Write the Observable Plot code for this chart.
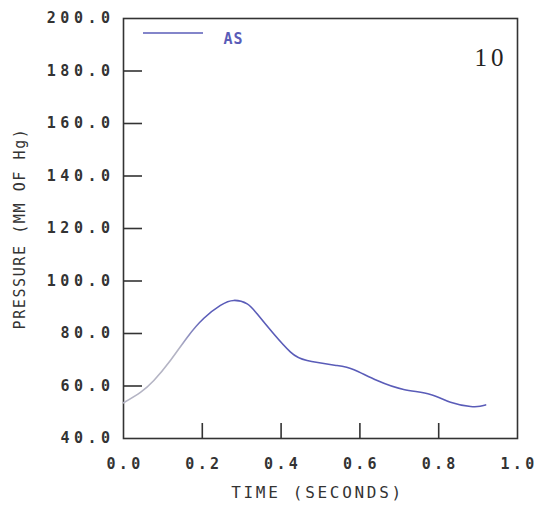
<!DOCTYPE html>
<html>
<head>
<meta charset="utf-8">
<script src="https://cdn.jsdelivr.net/npm/d3@7"></script>
<script src="https://cdn.jsdelivr.net/npm/@observablehq/plot@0.6"></script>
<style>
  body { margin: 0; background: #fff; }
  #chart svg { display: block; }
  .ylab text { letter-spacing: 4.5px; }
  .xlab text { letter-spacing: 3.3px; }
  .xtitle text { letter-spacing: 2.7px; }
  .ytitle text { letter-spacing: 1.6px; }
  .legtext text { letter-spacing: 1px; }
  .panel text { letter-spacing: 4px; }
</style>
</head>
<body>
<div id="chart"></div>
<script>
// Time (seconds) and pressure (mm of Hg)
const time = [0.000, 0.043, 0.077, 0.119, 0.162, 0.204, 0.246, 0.280, 0.314, 0.339, 0.381, 0.424, 0.466, 0.542, 0.585, 0.644, 0.711, 0.779, 0.830, 0.881, 0.905, 0.919];
const pressure = [53.6, 57.6, 62.1, 69.7, 78.6, 85.8, 90.7, 92.6, 91.3, 87.5, 79.9, 72.9, 69.7, 67.8, 66.2, 62.1, 58.7, 56.8, 53.8, 52.2, 52.3, 52.8];
const xTicks = [0.0, 0.2, 0.4, 0.6, 0.8, 1.0];
const yTicks = [40, 60, 80, 100, 120, 140, 160, 180, 200];
const xLabel = "TIME (SECONDS)";
const yLabel = "PRESSURE (MM OF Hg)";
const seriesName = "AS";
const panelNumber = "10";

const data = time.map((t, i) => ({t, p: pressure[i]}));

const curveColor = "#5a5cb8";
const faintColor = "#b4b4c4";
const axisColor = "#333";
const monoFont = "'DejaVu Sans Mono', monospace";

const chart = Plot.plot({
  width: 537,
  height: 506,
  marginLeft: 123,
  marginRight: 20,
  marginTop: 18,
  marginBottom: 68,
  style: {background: "#fff", color: axisColor},
  x: {domain: [0, 1]},
  y: {domain: [40, 200]},
  marks: [
    Plot.frame({stroke: axisColor, strokeWidth: 1.6}),
    // inward ticks
    Plot.axisY(yTicks.slice(1, -1), {tickSize: -19, stroke: axisColor, strokeWidth: 1.6, text: null, label: null}),
    Plot.axisX(xTicks.slice(1, -1), {tickSize: -15, stroke: axisColor, strokeWidth: 1.6, text: null, label: null}),
    // tick labels
    Plot.axisY(yTicks, {tickSize: 0, tickPadding: 9, tickFormat: d => d.toFixed(1), label: null, className: "ylab",
      fontFamily: monoFont, fontWeight: "bold", fontSize: 15, fill: axisColor}),
    Plot.axisX(xTicks, {tickSize: 0, tickPadding: 20, dx: 1.5, tickFormat: d => d.toFixed(1), label: null, className: "xlab",
      fontFamily: monoFont, fontWeight: "bold", fontSize: 15, fill: axisColor}),
    // axis titles
    Plot.text([xLabel], {frameAnchor: "bottom", dy: 59, dx: -3, text: d => d, className: "xtitle",
      fontFamily: monoFont, fontSize: 16, fill: axisColor}),
    Plot.text([yLabel], {frameAnchor: "left", dx: -103, rotate: -90, textAnchor: "middle", text: d => d, className: "ytitle",
      fontFamily: monoFont, fontSize: 15, fill: axisColor}),
    // curve (faded start via gradient, as in the scan)
    Plot.line(data, {x: "t", y: "p", stroke: "url(#curveGrad)", strokeWidth: 1.6, curve: "natural"}),
    // legend label and panel number
    Plot.text([seriesName], {frameAnchor: "top-left", dx: 100, dy: 15, text: d => d, fill: curveColor, className: "legtext",
      fontFamily: monoFont, fontWeight: "bold", fontSize: 15, textAnchor: "start"}),
    Plot.text([panelNumber], {frameAnchor: "top-right", dx: -10, dy: 30, text: d => d, fill: "#222", className: "panel",
      fontFamily: "'Liberation Serif', serif", fontSize: 25, textAnchor: "end"})
  ]
});

const svg = d3.select(chart);
// gradient: faint grey at the start of the trace, blue afterwards
const defs = svg.insert("defs", ":first-child");
const grad = defs.append("linearGradient").attr("id", "curveGrad")
  .attr("gradientUnits", "userSpaceOnUse")
  .attr("x1", 123).attr("x2", 517).attr("y1", 0).attr("y2", 0);
grad.append("stop").attr("offset", "0%").attr("stop-color", faintColor);
grad.append("stop").attr("offset", "14%").attr("stop-color", faintColor);
grad.append("stop").attr("offset", "20%").attr("stop-color", curveColor);
grad.append("stop").attr("offset", "100%").attr("stop-color", curveColor);

// legend swatch line
svg.append("line")
  .attr("x1", 143).attr("x2", 203).attr("y1", 33).attr("y2", 33)
  .attr("stroke", curveColor).attr("stroke-width", 1.6);

document.getElementById("chart").appendChild(chart);
</script>
</body>
</html>
